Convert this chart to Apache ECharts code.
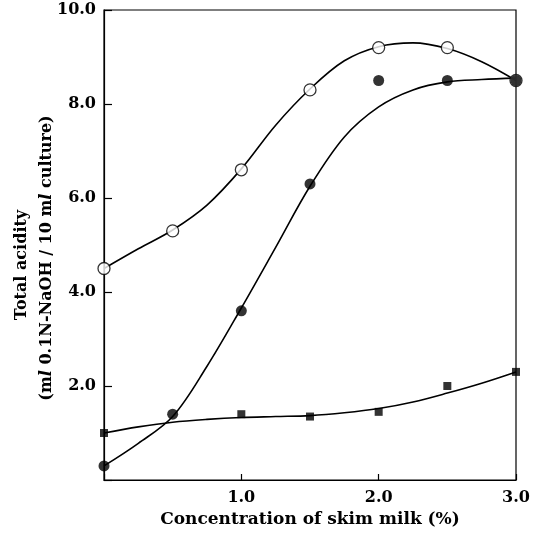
<!DOCTYPE html>
<html><head><meta charset="utf-8">
<script src="https://cdn.jsdelivr.net/npm/echarts@6/dist/echarts.min.js"></script>
<style>html,body{margin:0;padding:0;background:#fff}#c{width:538px;height:547px}</style>
</head><body><div id="c"></div>
<script>
// Measured points
const openPts   = [[0,4.5],[0.5,5.3],[1.0,6.6],[1.5,8.3],[2.0,9.2],[2.5,9.2],[3.0,8.5]];
const filledPts = [[0,0.3],[0.5,1.4],[1.0,3.6],[1.5,6.3],[2.0,8.5],[2.5,8.5],[3.0,8.5]];
const squarePts = [[0,1.0],[1.0,1.4],[1.5,1.35],[2.0,1.45],[2.5,2.0],[3.0,2.3]];
// Hand-drawn fitted curves
const curveX      = [0,0.25,0.5,0.75,1.0,1.25,1.5,1.75,2.0,2.25,2.5,2.75,3.0];
const openCurve   = [4.5,4.92,5.32,5.85,6.62,7.55,8.32,8.92,9.22,9.3,9.18,8.9,8.5];
const filledCurve = [0.3,0.78,1.35,2.42,3.66,4.95,6.25,7.3,7.94,8.3,8.47,8.52,8.55];
const squareCurve = [1.0,1.13,1.23,1.29,1.33,1.35,1.37,1.43,1.52,1.66,1.85,2.06,2.3];
const xTicks = [1.0,2.0,3.0];
const yTicks = [2.0,4.0,6.0,8.0,10.0];

const F = '"DejaVu Serif", serif';
const FS = 16;
const pair = ys => curveX.map((x,i)=>[x,ys[i]]);
const chart = echarts.init(document.getElementById('c'));
chart.setOption({
  animation:false,
  grid:{left:104,right:22,top:10,bottom:67,show:true,borderColor:'#000',borderWidth:1.2,backgroundColor:'transparent'},
  xAxis:{type:'value',min:0,max:3,interval:1,
    name:'Concentration of skim milk (%)',nameLocation:'middle',nameGap:30,
    nameTextStyle:{fontFamily:F,fontWeight:'bold',fontSize:17,color:'#000'},
    axisLine:{lineStyle:{color:'#000',width:1.2}},
    axisTick:{inside:true,length:6,lineStyle:{color:'#000',width:1.2}},
    axisLabel:{margin:10,fontFamily:F,fontWeight:'bold',fontSize:FS,color:'#000',
      formatter:v=>xTicks.includes(v)?v.toFixed(1):''},
    splitLine:{show:false}},
  yAxis:{type:'value',min:0,max:10,interval:2,
    axisLine:{lineStyle:{color:'#000',width:1.2}},
    axisTick:{inside:true,length:8,lineStyle:{color:'#000',width:1.2}},
    axisLabel:{margin:8,fontFamily:F,fontWeight:'bold',fontSize:FS,color:'#000',
      formatter:v=>yTicks.includes(v)?v.toFixed(1):''},
    splitLine:{show:false}},
  graphic:[
    {type:'text',x:22,y:265,rotation:Math.PI/2,style:{text:'Total acidity',fontFamily:F,fontWeight:'bold',fontSize:FS,fill:'#000',textAlign:'center',textVerticalAlign:'middle'}},
    {type:'text',x:47,y:258,rotation:Math.PI/2,style:{
      text:'{b|(m}{i|l}{b| 0.1N-NaOH / 10 m}{i|l}{b| culture)}',
      textAlign:'center',textVerticalAlign:'middle',
      rich:{b:{fontFamily:F,fontWeight:'bold',fontSize:FS,fill:'#000'},
            i:{fontFamily:F,fontWeight:'bold',fontStyle:'italic',fontSize:FS,fill:'#000'}}}}
  ],
  series:[
    {type:'line',data:pair(openCurve),smooth:0.35,showSymbol:false,lineStyle:{color:'#000',width:1.6},z:1},
    {type:'line',data:pair(filledCurve),smooth:0.35,showSymbol:false,lineStyle:{color:'#000',width:1.6},z:1},
    {type:'line',data:pair(squareCurve),smooth:0.35,showSymbol:false,lineStyle:{color:'#000',width:1.6},z:1},
    {type:'scatter',data:openPts,symbol:'circle',symbolSize:12,itemStyle:{color:'#fff',borderColor:'#000',borderWidth:1.3},z:3},
    {type:'scatter',data:filledPts,symbol:'circle',symbolSize:11,itemStyle:{color:'#000'},z:4},
    {type:'scatter',data:squarePts,symbol:'rect',symbolSize:8,itemStyle:{color:'#000'},z:3}
  ]
});
</script></body></html>
